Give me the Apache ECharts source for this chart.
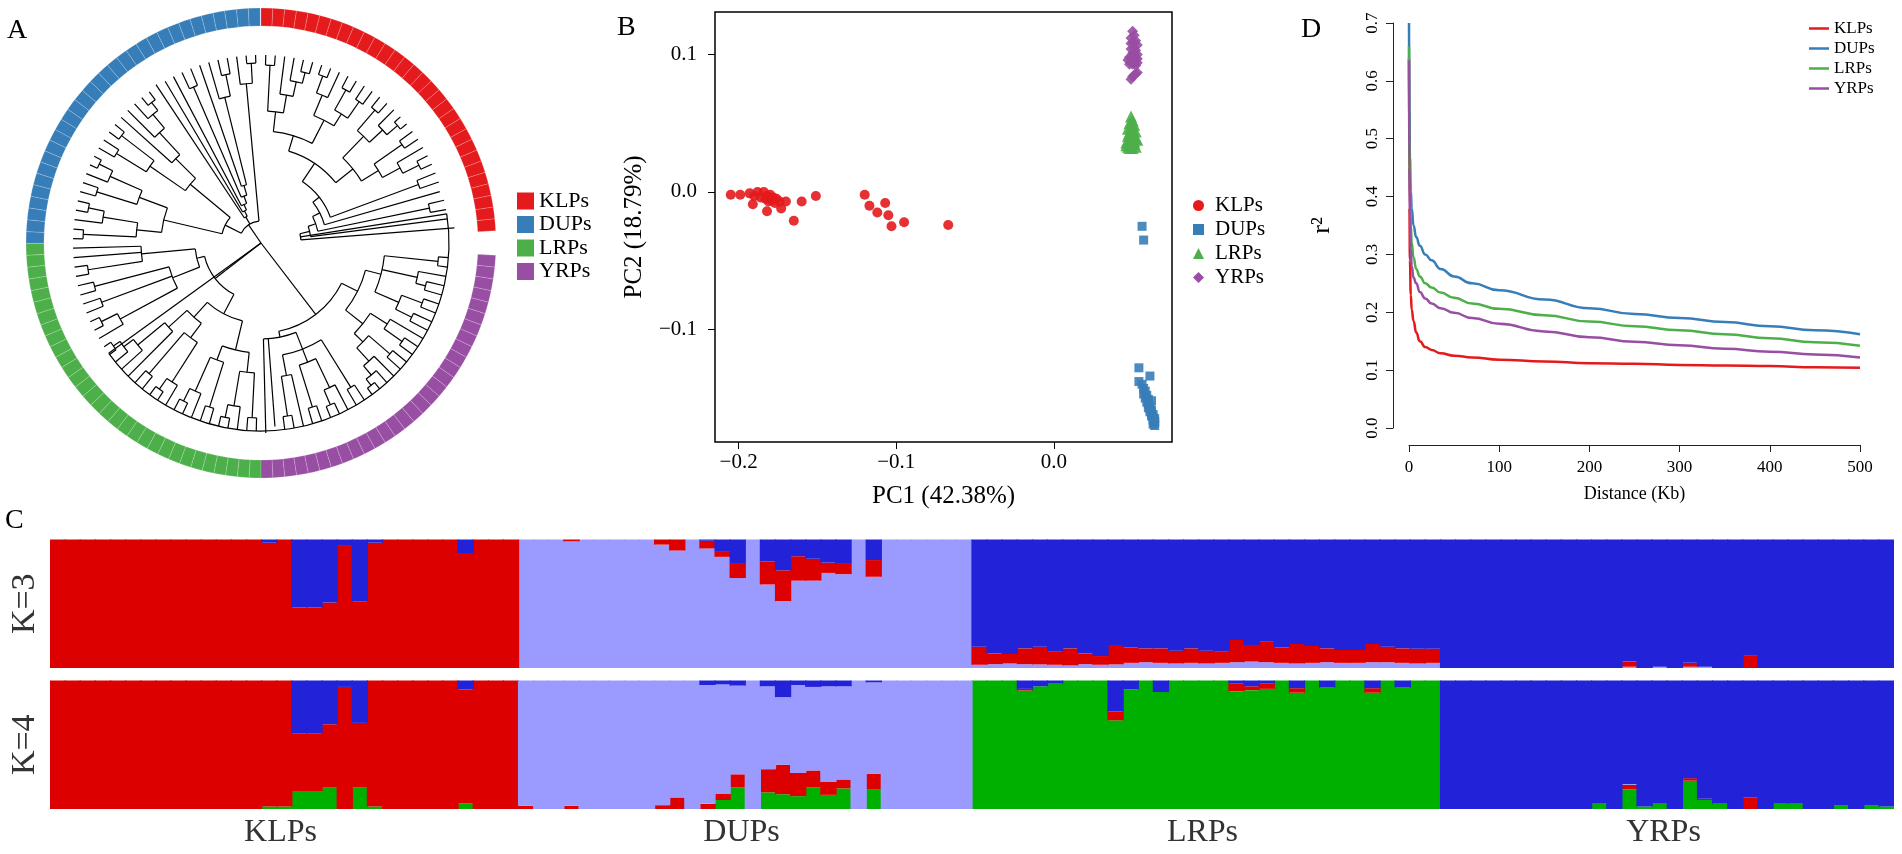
<!DOCTYPE html>
<html>
<head>
<meta charset="utf-8">
<title>Population structure of the four groups</title>
<script src="https://cdn.jsdelivr.net/npm/echarts@6/dist/echarts.min.js"></script>
<style>
  html, body { margin: 0; padding: 0; background: #fff; }
  #chart { width: 1902px; height: 854px; }
</style>
</head>
<body>
<div id="chart"></div>
<script>
// ---------------- data ----------------
const groups = ['KLPs', 'DUPs', 'LRPs', 'YRPs'];
const groupColors = ['#E41A1C', '#377EB8', '#4DAF4A', '#984EA3'];

// A: cladogram. Newick-like, the number after ':' is the depth of the node
// from the root (radius units), leaves without a number sit at tipDepth.
const redClade =
  '((((((((((,):178,(,(,(,):176):165):150):132,(((,):178,):160,((,):175,(,):172):152):138):112,' +
  '(((,):175,(,(,):180):166):148,((,):172,(,(,):176):158):138):118):96,(,):168):74,:186):66,(,):172):58,):50,:194):40';
const purpleGreenClade =
  '((((((,):178,(,(,):170):160,((,):172,(,):168):150):124,((,(,):172):150,((,):170,(,(,(,):180):172):160):142):130):108,' +
  '(((,):170,((,(,):176):160,(,):172):128,(,(,):175):135):114,:184,:190):96):90,' +
  '((((((,):175,(,(,):178):165):130,((,):172,(,(,):176):162):125):110,(((,(,):178):165,(,):172):118,(,(,(,(,):180):172):160):125):100):80,' +
  '(((,(,):178):160,(,):170,(,):172):95,((,):175,,):120):66):58):45';
const blueClade =
  '(((((,):178,(,(,):176):160):125,((,):172,(,(,):180):165):130):100,(((,):170,(,):176):135,(,(,(,(,):178):168):150):120):92):40,' +
  '(:190,(,(,((,):170,(,(,(,):172):150):60):50):42):36):30,(,(,):180):160):22';
const treeNewick = '(' + redClade + ',' + purpleGreenClade + ',' + blueClade + '):0';
const tipDepth = 188;
const leafStep = 2.9;        // degrees per leaf
const gapAfterLeaf = 30;     // open gap in the ring after this many leaves
const gapAngle = 6;
const ringOrder = ['KLPs', 'YRPs', 'LRPs', 'DUPs'];   // clockwise from 12 o'clock
const ringCounts = [30, 30, 31, 31];

// B: PCA
const pcaKLPs = [[-0.205,-0.002],[-0.199,-0.002],[-0.193,-0.001],[-0.190,-0.003],[-0.188,0.000],[-0.186,-0.004],[-0.184,0.000],[-0.183,-0.005],[-0.182,-0.003],[-0.181,-0.007],[-0.180,-0.002],[-0.179,-0.006],[-0.178,-0.004],[-0.177,-0.008],[-0.176,-0.005],[-0.191,-0.009],[-0.182,-0.014],[-0.174,-0.007],[-0.173,-0.012],[-0.170,-0.007],[-0.165,-0.021],[-0.160,-0.007],[-0.151,-0.003],[-0.120,-0.002],[-0.117,-0.010],[-0.112,-0.015],[-0.107,-0.008],[-0.105,-0.017],[-0.103,-0.025],[-0.095,-0.022],[-0.067,-0.024]];
const pcaDUPs = [[0.056,-0.025],[0.057,-0.035],[0.054,-0.128],[0.061,-0.134],[0.054,-0.138],[0.056,-0.140],[0.057,-0.143],[0.058,-0.145],[0.057,-0.147],[0.059,-0.148],[0.058,-0.150],[0.060,-0.151],[0.059,-0.153],[0.060,-0.154],[0.061,-0.156],[0.060,-0.157],[0.061,-0.158],[0.062,-0.159],[0.061,-0.160],[0.062,-0.161],[0.063,-0.162],[0.062,-0.163],[0.063,-0.164],[0.064,-0.165],[0.063,-0.166],[0.064,-0.167],[0.064,-0.168],[0.063,-0.169],[0.064,-0.170],[0.062,-0.152]];
const pcaLRPs = [[0.049,0.055],[0.050,0.052],[0.048,0.050],[0.051,0.049],[0.049,0.047],[0.047,0.046],[0.050,0.045],[0.052,0.044],[0.048,0.043],[0.049,0.042],[0.051,0.041],[0.047,0.041],[0.050,0.040],[0.048,0.039],[0.052,0.039],[0.049,0.038],[0.051,0.037],[0.047,0.037],[0.050,0.036],[0.048,0.035],[0.046,0.034],[0.049,0.034],[0.051,0.035],[0.052,0.033],[0.047,0.033],[0.050,0.032],[0.048,0.032],[0.046,0.036],[0.053,0.038],[0.049,0.044],[0.050,0.048]];
const pcaYRPs = [[0.050,0.117],[0.051,0.114],[0.049,0.112],[0.052,0.110],[0.050,0.109],[0.053,0.107],[0.051,0.105],[0.049,0.104],[0.052,0.103],[0.050,0.101],[0.053,0.100],[0.051,0.099],[0.048,0.098],[0.050,0.097],[0.052,0.096],[0.049,0.095],[0.051,0.094],[0.047,0.096],[0.053,0.094],[0.050,0.093],[0.052,0.092],[0.048,0.093],[0.051,0.101],[0.049,0.108],[0.053,0.097],[0.052,0.086],[0.053,0.087],[0.050,0.084],[0.049,0.082],[0.051,0.085]];
const pcTicksX = [-0.2, -0.1, 0.0];
const pcTicksY = [-0.1, 0.0, 0.1];

// C: ancestry proportions, individuals in order KLPs(31) DUPs(30) LRPs(31) YRPs(30)
const k3Lav = [
  0,0,0,0,0,0,0,0,0,0,0,0,0,0,0,0,0,0,0,0,0,0,0,0,0,0,0,0,0,0,0,
  1,1,1,0.985,1,1,1,1,1,0.96,0.914,1,0.93,0.865,0.70,1,0.65,0.52,0.68,0.68,0.74,0.73,1,0.71,1,1,1,1,1,1,
  0.025,0.03,0.035,0.03,0.028,0.025,0.02,0.03,0.025,0.028,0.04,0.045,0.04,0.035,0.04,0.035,0.04,0.045,0.05,0.045,0.04,0.035,0.04,0.045,0.04,0.04,0.045,0.045,0.04,0.035,0.04,
  0,0,0,0,0,0,0,0,0,0,0,0,0.01,0,0.01,0,0.01,0.01,0,0,0,0,0,0,0,0,0,0,0,0
];
const k3Red = [
  1,1,1,1,1,1,1,1,1,1,1,1,1,1,0.975,1,0.47,0.47,0.51,0.95,0.52,0.975,1,1,1,1,1,0.895,1,1,1,
  0,0,0,0.015,0,0,0,0,0,0.04,0.086,0,0.06,0.045,0.11,0,0.18,0.24,0.19,0.17,0.08,0.08,0,0.13,0,0,0,0,0,0,
  0.141,0.084,0.074,0.123,0.138,0.102,0.133,0.084,0.068,0.151,0.121,0.108,0.113,0.1,0.113,0.1,0.087,0.173,0.129,0.16,0.121,0.152,0.131,0.108,0.1,0.1,0.142,0.121,0.113,0.115,0.11,
  0,0,0,0,0,0,0,0,0,0,0,0,0.04,0,0,0,0.03,0,0,0,0.1,0,0,0,0,0,0,0,0,0
];
const k3Blue = [
  0,0,0,0,0,0,0,0,0,0,0,0,0,0,0.025,0,0.53,0.53,0.49,0.05,0.48,0.025,0,0,0,0,0,0.105,0,0,0,
  0,0,0,0,0,0,0,0,0,0,0,0,0.01,0.09,0.19,0,0.17,0.24,0.13,0.15,0.18,0.19,0,0.16,0,0,0,0,0,0,
  0.834,0.886,0.891,0.847,0.834,0.873,0.847,0.886,0.907,0.821,0.839,0.847,0.847,0.865,0.847,0.865,0.873,0.782,0.821,0.795,0.839,0.813,0.829,0.847,0.86,0.86,0.813,0.834,0.847,0.85,0.85,
  1,1,1,1,1,1,1,1,1,1,1,1,0.95,1,0.99,1,0.96,0.99,1,1,0.9,1,1,1,1,1,1,1,1,1
];
const k4Green = [
  0,0,0,0,0,0,0,0,0,0,0,0,0,0,0.02,0.02,0.14,0.14,0.17,0,0.17,0.02,0,0,0,0,0,0.045,0,0,0,
  0,0,0,0,0,0,0,0,0,0,0,0,0,0.07,0.17,0,0.13,0.115,0.1,0.17,0.11,0.16,0,0.15,0,0,0,0,0,0,
  1,1,1,0.922,0.955,0.975,1,1,1,0.69,0.93,1,0.91,1,1,1,1,0.915,0.925,0.935,1,0.905,1,0.945,1,1,0.905,1,0.945,1,1,
  0,0,0,0,0,0,0,0,0,0,0.04,0,0.153,0.02,0.04,0,0.22,0.07,0.04,0,0,0,0.04,0.04,0,0,0.03,0,0.03,0.02
];
const k4Red = [
  1,1,1,1,1,1,1,1,1,1,1,1,1,1,0.98,0.98,0.45,0.45,0.49,0.95,0.5,0.98,1,1,1,1,1,0.885,1,1,1,
  0.025,0,0,0.025,0,0,0,0,0,0.03,0.09,0,0.04,0.047,0.1,0,0.18,0.23,0.18,0.13,0.1,0.07,0,0.125,0,0,0,0,0,0,
  0,0,0,0.013,0,0,0,0,0,0.07,0,0,0,0,0,0,0,0.06,0.03,0.04,0,0.035,0,0,0,0,0.035,0,0,0,0,
  0,0,0,0,0,0,0,0,0,0,0,0,0.034,0,0,0,0.02,0.01,0,0,0.09,0,0,0,0,0,0,0,0,0
];
const k4Lav = [
  0,0,0,0,0,0,0,0,0,0,0,0,0,0,0,0,0,0,0,0,0,0,0,0,0,0,0,0,0,0,0,
  0.975,1,1,0.975,1,1,1,1,1,0.97,0.91,1,0.925,0.853,0.69,1,0.645,0.525,0.685,0.65,0.745,0.725,1,0.71,1,1,1,1,1,1,
  0,0,0,0,0,0,0,0,0,0,0,0,0,0,0,0,0,0,0,0,0,0,0,0,0,0,0,0,0,0,0,
  0,0,0,0,0,0,0,0,0,0,0,0,0.008,0,0,0,0,0,0,0,0,0,0,0,0,0,0,0,0,0
];
const k4Blue = [
  0,0,0,0,0,0,0,0,0,0,0,0,0,0,0,0,0.41,0.41,0.34,0.05,0.33,0,0,0,0,0,0,0.07,0,0,0,
  0,0,0,0,0,0,0,0,0,0,0,0,0.035,0.03,0.04,0,0.045,0.13,0.035,0.05,0.045,0.045,0,0.015,0,0,0,0,0,0,
  0,0,0,0.065,0.045,0.025,0,0,0,0.24,0.07,0,0.09,0,0,0,0,0.025,0.045,0.025,0,0.06,0,0.055,0,0,0.06,0,0.055,0,0,
  1,1,1,1,1,1,1,1,1,1,0.96,1,0.805,0.98,0.96,1,0.76,0.92,0.96,1,0.91,1,0.96,0.96,1,1,0.97,1,0.97,0.98
];

// D: LD decay
const ldDist = [0,0.5,1,2,3,5,8,12,18,25,35,50,70,100,150,200,250,300,350,400,450,500];
const ldKLPs = [0.64,0.38,0.29,0.23,0.205,0.185,0.165,0.15,0.14,0.135,0.129,0.125,0.122,0.118,0.115,0.112,0.111,0.109,0.108,0.107,0.105,0.104];
const ldDUPs = [0.70,0.55,0.47,0.41,0.38,0.35,0.33,0.315,0.30,0.29,0.275,0.262,0.25,0.238,0.222,0.207,0.197,0.19,0.183,0.176,0.169,0.162];
const ldLRPs = [0.66,0.50,0.42,0.35,0.32,0.295,0.275,0.262,0.25,0.243,0.234,0.225,0.215,0.206,0.195,0.184,0.176,0.169,0.162,0.155,0.148,0.142];
const ldYRPs = [0.635,0.45,0.37,0.31,0.28,0.26,0.25,0.235,0.224,0.215,0.207,0.199,0.19,0.18,0.167,0.157,0.149,0.143,0.137,0.132,0.127,0.122];

// ---------------- tree layout ----------------
const FONT = '"Liberation Serif", "Times New Roman", serif';

function parseNewick(str) {
  let i = 0;
  function readNode() {
    const node = { children: [] };
    if (str[i] === '(') {
      i++;
      node.children.push(readNode());
      while (str[i] === ',') { i++; node.children.push(readNode()); }
      i++; // ')'
    }
    if (str[i] === ':') {
      i++;
      const start = i;
      while (i < str.length && /[0-9.]/.test(str[i])) i++;
      node.depth = parseFloat(str.slice(start, i));
    }
    return node;
  }
  return readNode();
}

const treeRoot = parseNewick(treeNewick);
const leafAngles = [];
(function place(node) {
  if (node.depth === undefined) node.depth = tipDepth;
  if (!node.children.length) {
    const i = leafAngles.length;
    node.angle = (i + 0.5) * leafStep + (i >= gapAfterLeaf ? gapAngle : 0);
    leafAngles.push(node.angle);
    return;
  }
  node.children.forEach(place);
  node.angle = (node.children[0].angle + node.children[node.children.length - 1].angle) / 2;
})(treeRoot);

// edges: [kind, r1, r2, angle1, angle2]  kind 0 = radial line, 1 = arc
const treeEdges = [];
(function collect(node) {
  if (!node.children.length) return;
  const first = node.children[0], last = node.children[node.children.length - 1];
  if (node.depth > 0) treeEdges.push([1, node.depth, node.depth, first.angle, last.angle]);
  node.children.forEach(ch => {
    treeEdges.push([0, node.depth, ch.depth, ch.angle, ch.angle]);
    collect(ch);
  });
})(treeRoot);

// ring cells per group
const ringData = {};
let leafCursor = 0;
ringOrder.forEach((g, k) => {
  ringData[g] = [];
  for (let n = 0; n < ringCounts[k]; n++, leafCursor++) {
    const a = leafAngles[leafCursor];
    ringData[g].push([217, 235, a - leafStep / 2, a + leafStep / 2]);
  }
});

function polarAngle(p, c) { return Math.atan2(p[1] - c[1], p[0] - c[0]); }

function renderRing(params, api) {
  const c = api.coord([0, 0]);
  const pIn = api.coord([api.value(0), api.value(2)]);
  const pOut = api.coord([api.value(1), api.value(2)]);
  const pEnd = api.coord([api.value(1), api.value(3)]);
  const s = polarAngle(pOut, c);
  let e = polarAngle(pEnd, c);
  while (e <= s) e += Math.PI * 2;
  return {
    type: 'sector',
    shape: {
      cx: c[0], cy: c[1],
      r0: Math.hypot(pIn[0] - c[0], pIn[1] - c[1]),
      r: Math.hypot(pOut[0] - c[0], pOut[1] - c[1]),
      startAngle: s, endAngle: e, clockwise: true
    },
    style: { fill: api.visual('color'), stroke: 'rgba(255,255,255,0.3)', lineWidth: 0.6 }
  };
}

function renderTree(params, api) {
  const c = api.coord([0, 0]);
  if (api.value(0) === 0) {
    const a = api.value(3);
    const p0 = api.coord([api.value(1), a]);
    const p1 = api.coord([api.value(2), a]);
    return { type: 'line', shape: { x1: p0[0], y1: p0[1], x2: p1[0], y2: p1[1] },
             style: { stroke: '#000', lineWidth: 1.2 } };
  }
  const r = api.value(1);
  const p0 = api.coord([r, api.value(3)]);
  const p1 = api.coord([r, api.value(4)]);
  const s = polarAngle(p0, c);
  let e = polarAngle(p1, c);
  while (e < s) e += Math.PI * 2;
  return { type: 'arc',
           shape: { cx: c[0], cy: c[1], r: Math.hypot(p0[0] - c[0], p0[1] - c[1]), startAngle: s, endAngle: e, clockwise: true },
           style: { stroke: '#000', fill: null, lineWidth: 1.2 } };
}

// ---------------- chart ----------------
const chart = echarts.init(document.getElementById('chart'));
const individuals = k3Red.map((_, i) => i + 1);
const minusFmt = v => (v < 0 ? '\u2212' : '') + Math.abs(v).toFixed(1);

const series = [];
groups.forEach((g, k) => {
  series.push({
    type: 'custom', name: g, coordinateSystem: 'polar', polarIndex: 0,
    data: ringData[g], encode: { radius: 0, angle: 2 },
    itemStyle: { color: groupColors[k] }, renderItem: renderRing, silent: true, clip: false
  });
});
series.push({
  type: 'custom', name: 'tree', coordinateSystem: 'polar', polarIndex: 0,
  data: treeEdges, encode: { radius: 1, angle: 3 },
  renderItem: renderTree, silent: true, clip: false
});

const pcaData = [pcaKLPs, pcaDUPs, pcaLRPs, pcaYRPs];
const pcaSymbols = ['circle', 'rect', 'triangle', 'diamond'];
const pcaSizes = [10, 9, 12, 11];
groups.forEach((g, k) => {
  series.push({
    type: 'scatter', name: g, xAxisIndex: 0, yAxisIndex: 0,
    data: pcaData[k], symbol: pcaSymbols[k], symbolSize: pcaSizes[k],
    itemStyle: { color: groupColors[k], opacity: 0.9 }, silent: true
  });
});

const ldData = [ldKLPs, ldDUPs, ldLRPs, ldYRPs];
groups.forEach((g, k) => {
  series.push({
    type: 'line', name: g, xAxisIndex: 1, yAxisIndex: 1,
    data: ldDist.map((d, i) => [d, ldData[k][i]]),
    showSymbol: false, smooth: true, smoothMonotone: 'x',
    lineStyle: { color: groupColors[k], width: 2.5 }, itemStyle: { color: groupColors[k] }, silent: true
  });
});

// bars are a little wider than their slot so neighbours overlap and no seams show
const barLeft = 48.5, barRight = 8;
const barSlot = (1902 - barLeft - barRight) / individuals.length;
function barSeries(name, values, color, axis) {
  return { type: 'bar', name, data: values.map(v => (v === 0 ? '-' : v)), stack: 'k' + axis,
           xAxisIndex: axis, yAxisIndex: axis, barWidth: barSlot + 1.2,
           itemStyle: { color }, silent: true };
}
const cRed = '#DD0000', cLav = '#9B9BFF', cBlue = '#2222D8', cGreen = '#00B000';
series.push(barSeries('K3 lavender', k3Lav, cLav, 2));
series.push(barSeries('K3 red', k3Red, cRed, 2));
series.push(barSeries('K3 blue', k3Blue, cBlue, 2));
series.push(barSeries('K4 green', k4Green, cGreen, 3));
series.push(barSeries('K4 red', k4Red, cRed, 3));
series.push(barSeries('K4 lavender', k4Lav, cLav, 3));
series.push(barSeries('K4 blue', k4Blue, cBlue, 3));

const hiddenAxis = { axisLine: { show: false }, axisTick: { show: false }, axisLabel: { show: false }, splitLine: { show: false } };
const letter = (text, left, top) => ({ type: 'text', left, top, style: { text, font: '28px ' + FONT, fill: '#000' } });

const option = {
  animation: false,
  textStyle: { fontFamily: FONT },
  polar: { center: [261, 243], radius: 236 },
  angleAxis: { type: 'value', min: 0, max: 360, startAngle: 90, clockwise: true, show: false },
  radiusAxis: { type: 'value', min: 0, max: 236, show: false },
  grid: [
    { left: 715, right: 730, top: 12, bottom: 412, show: true, borderColor: '#000', borderWidth: 1.5, backgroundColor: 'transparent' },
    { left: 1409, right: 42, top: 23, bottom: 426 },
    { left: barLeft, right: barRight, top: 539.5, height: 128.5 },
    { left: barLeft, right: barRight, top: 680.5, height: 128.5 }
  ],
  xAxis: [
    { type: 'value', gridIndex: 0, min: -0.215, max: 0.075,
      axisLine: { show: false, onZero: false },
      axisTick: { show: true, length: 7, customValues: pcTicksX, lineStyle: { color: '#000' } },
      axisLabel: { customValues: pcTicksX, formatter: minusFmt, fontSize: 21, color: '#000', margin: 10 },
      splitLine: { show: false },
      name: 'PC1 (42.38%)', nameLocation: 'middle', nameGap: 42, nameTextStyle: { fontSize: 25, color: '#000' } },
    { type: 'value', gridIndex: 1, min: 0, max: 500, interval: 100, offset: 17,
      axisLine: { show: true, onZero: false, lineStyle: { color: '#222', width: 1 } },
      axisTick: { length: 7, lineStyle: { color: '#222' } },
      axisLabel: { fontSize: 17, color: '#000', margin: 14 },
      splitLine: { show: false },
      name: 'Distance (Kb)', nameLocation: 'middle', nameGap: 40, nameTextStyle: { fontSize: 18, color: '#000' } },
    Object.assign({ type: 'category', gridIndex: 2, data: individuals, position: 'top' }, hiddenAxis),
    Object.assign({ type: 'category', gridIndex: 3, data: individuals, position: 'top' }, hiddenAxis),
    { type: 'category', gridIndex: 3, data: groups, position: 'bottom',
      axisLine: { show: false }, axisTick: { show: false },
      axisLabel: { fontSize: 32, color: '#333', margin: 8 } }
  ],
  yAxis: [
    { type: 'value', gridIndex: 0, min: -0.182, max: 0.131,
      axisLine: { show: false, onZero: false },
      axisTick: { show: true, length: 7, customValues: pcTicksY, lineStyle: { color: '#000' } },
      axisLabel: { customValues: pcTicksY, formatter: minusFmt, fontSize: 21, color: '#000', margin: 18 },
      splitLine: { show: false },
      name: 'PC2 (18.79%)', nameLocation: 'middle', nameRotate: 90, nameGap: 68, nameTextStyle: { fontSize: 25, color: '#000' } },
    { type: 'value', gridIndex: 1, min: 0, max: 0.7, interval: 0.1, offset: 16,
      axisLine: { show: true, onZero: false, lineStyle: { color: '#222', width: 1 } },
      axisTick: { length: 7, lineStyle: { color: '#222' } },
      axisLabel: { rotate: 90, fontSize: 17, color: '#000', margin: 12, formatter: v => v.toFixed(1) },
      splitLine: { show: false },
      name: 'r\u00B2', nameLocation: 'middle', nameRotate: 90, nameGap: 58, nameTextStyle: { fontSize: 26, color: '#000' } },
    Object.assign({ type: 'value', gridIndex: 2, min: 0, max: 1, name: 'K=3', nameLocation: 'middle', nameRotate: 90, nameGap: 8,
      nameTextStyle: { fontSize: 34, color: '#333' } }, hiddenAxis),
    Object.assign({ type: 'value', gridIndex: 3, min: 0, max: 1, name: 'K=4', nameLocation: 'middle', nameRotate: 90, nameGap: 8,
      nameTextStyle: { fontSize: 34, color: '#333' } }, hiddenAxis)
  ],
  legend: [
    { data: groups.map(g => ({ name: g, icon: 'rect' })), orient: 'vertical', left: 512, top: 185,
      itemWidth: 17, itemHeight: 17, itemGap: 1.5, selectedMode: false,
      textStyle: { fontSize: 22, color: '#000', fontFamily: FONT } },
    { data: groups.map((g, k) => ({ name: g, icon: pcaSymbols[k] })), orient: 'vertical', left: 1188, top: 190,
      itemWidth: 11, itemHeight: 11, itemGap: 3, selectedMode: false,
      textStyle: { fontSize: 21, color: '#000', fontFamily: FONT, padding: [0, 0, 0, 6] } },
    { data: groups.map(g => ({ name: g, icon: 'rect' })), orient: 'vertical', left: 1804, top: 15,
      itemWidth: 20, itemHeight: 2.5, itemGap: 3, selectedMode: false,
      textStyle: { fontSize: 17, color: '#000', fontFamily: FONT } }
  ],
  graphic: [
    letter('A', 7, 17),
    letter('B', 617, 14),
    letter('D', 1301, 16),
    letter('C', 5, 507)
  ],
  series
};
chart.setOption(option);
</script>
</body>
</html>
